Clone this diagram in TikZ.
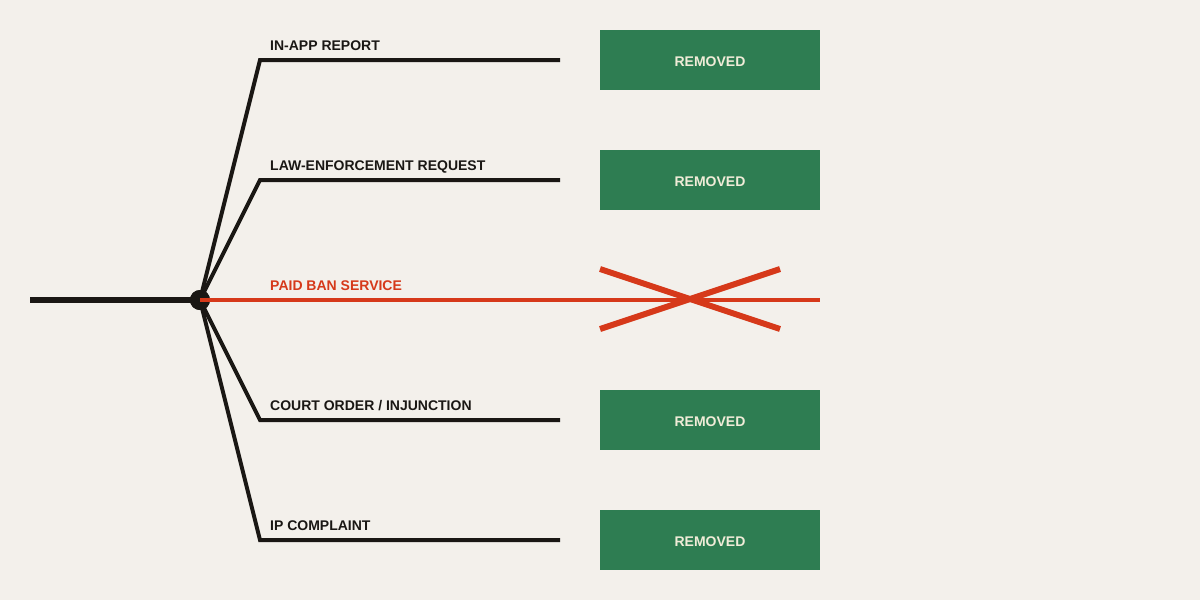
\documentclass[tikz,border=0pt]{standalone}
\usepackage{fontspec}
\setmainfont{Liberation Sans}
\usetikzlibrary{positioning,calc}
\definecolor{paper}{RGB}{243,240,235}
\definecolor{ink}{RGB}{26,23,20}
\definecolor{banred}{RGB}{214,57,26}
\definecolor{okgreen}{RGB}{46,125,82}
\definecolor{cream}{RGB}{240,236,216}
\tikzstyle{Rbox}=[shape=rectangle,fill=okgreen,minimum width=220pt,minimum height=60pt,inner sep=0pt,text height=12pt,text depth=0pt,text=cream,font=\fontsize{14}{16}\selectfont\bfseries]
\tikzstyle{Blabel}=[anchor=base west,inner sep=0pt,text=ink,font=\fontsize{14}{16}\selectfont\bfseries]
\tikzstyle{branchedge}=[draw=ink,line width=4pt,line join=miter]
\tikzstyle{rededge}=[draw=banred,line width=4pt]
\tikzstyle{crossedge}=[draw=banred,line width=6pt]

\begin{document}
\begin{tikzpicture}[x=1pt,y=-1pt]
 \fill[paper] (0,0) rectangle (1200,600);
 \useasboundingbox (0,0) rectangle (1200,600);

 \coordinate (root) at (30,300);
 \node[shape=circle,fill=ink,minimum size=20pt,inner sep=0pt] (hub) at (200,300){};

 % branch corners and ends
 \coordinate (c1) at (260,60);  \coordinate (e1) at (560,60);
 \coordinate (c2) at (260,180); \coordinate (e2) at (560,180);
 \coordinate (c4) at (260,420); \coordinate (e4) at (560,420);
 \coordinate (c5) at (260,540); \coordinate (e5) at (560,540);
 \coordinate (e3) at (820,300);

 \node[Blabel] (l1) at (270,50){IN-APP REPORT};
 \node[Blabel] (l2) at (270,170){LAW-ENFORCEMENT REQUEST};
 \node[Blabel,text=banred] (l3) at (270,290){PAID BAN SERVICE};
 \node[Blabel] (l4) at (270,410){COURT ORDER / INJUNCTION};
 \node[Blabel] (l5) at (270,530){IP COMPLAINT};

 \node[Rbox] (r1) at (710,60){REMOVED};
 \node[Rbox] (r2) at (710,180){REMOVED};
 \node[Rbox] (r4) at (710,420){REMOVED};
 \node[Rbox] (r5) at (710,540){REMOVED};

 \coordinate (x1) at (600,269); \coordinate (x2) at (780,329);
 \coordinate (x3) at (600,329); \coordinate (x4) at (780,269);

 \draw[draw=ink,line width=6pt] (root) -- (hub.center);
 \draw[branchedge] (hub.center) -- (c1) -- (e1);
 \draw[branchedge] (hub.center) -- (c2) -- (e2);
 \draw[branchedge] (hub.center) -- (c4) -- (e4);
 \draw[branchedge] (hub.center) -- (c5) -- (e5);
 \fill[ink] (hub) circle (10pt);
 \draw[rededge] (hub.center) -- (e3);

 \draw[crossedge] (x1) -- (x2);
 \draw[crossedge] (x3) -- (x4);
\end{tikzpicture}
\end{document}
